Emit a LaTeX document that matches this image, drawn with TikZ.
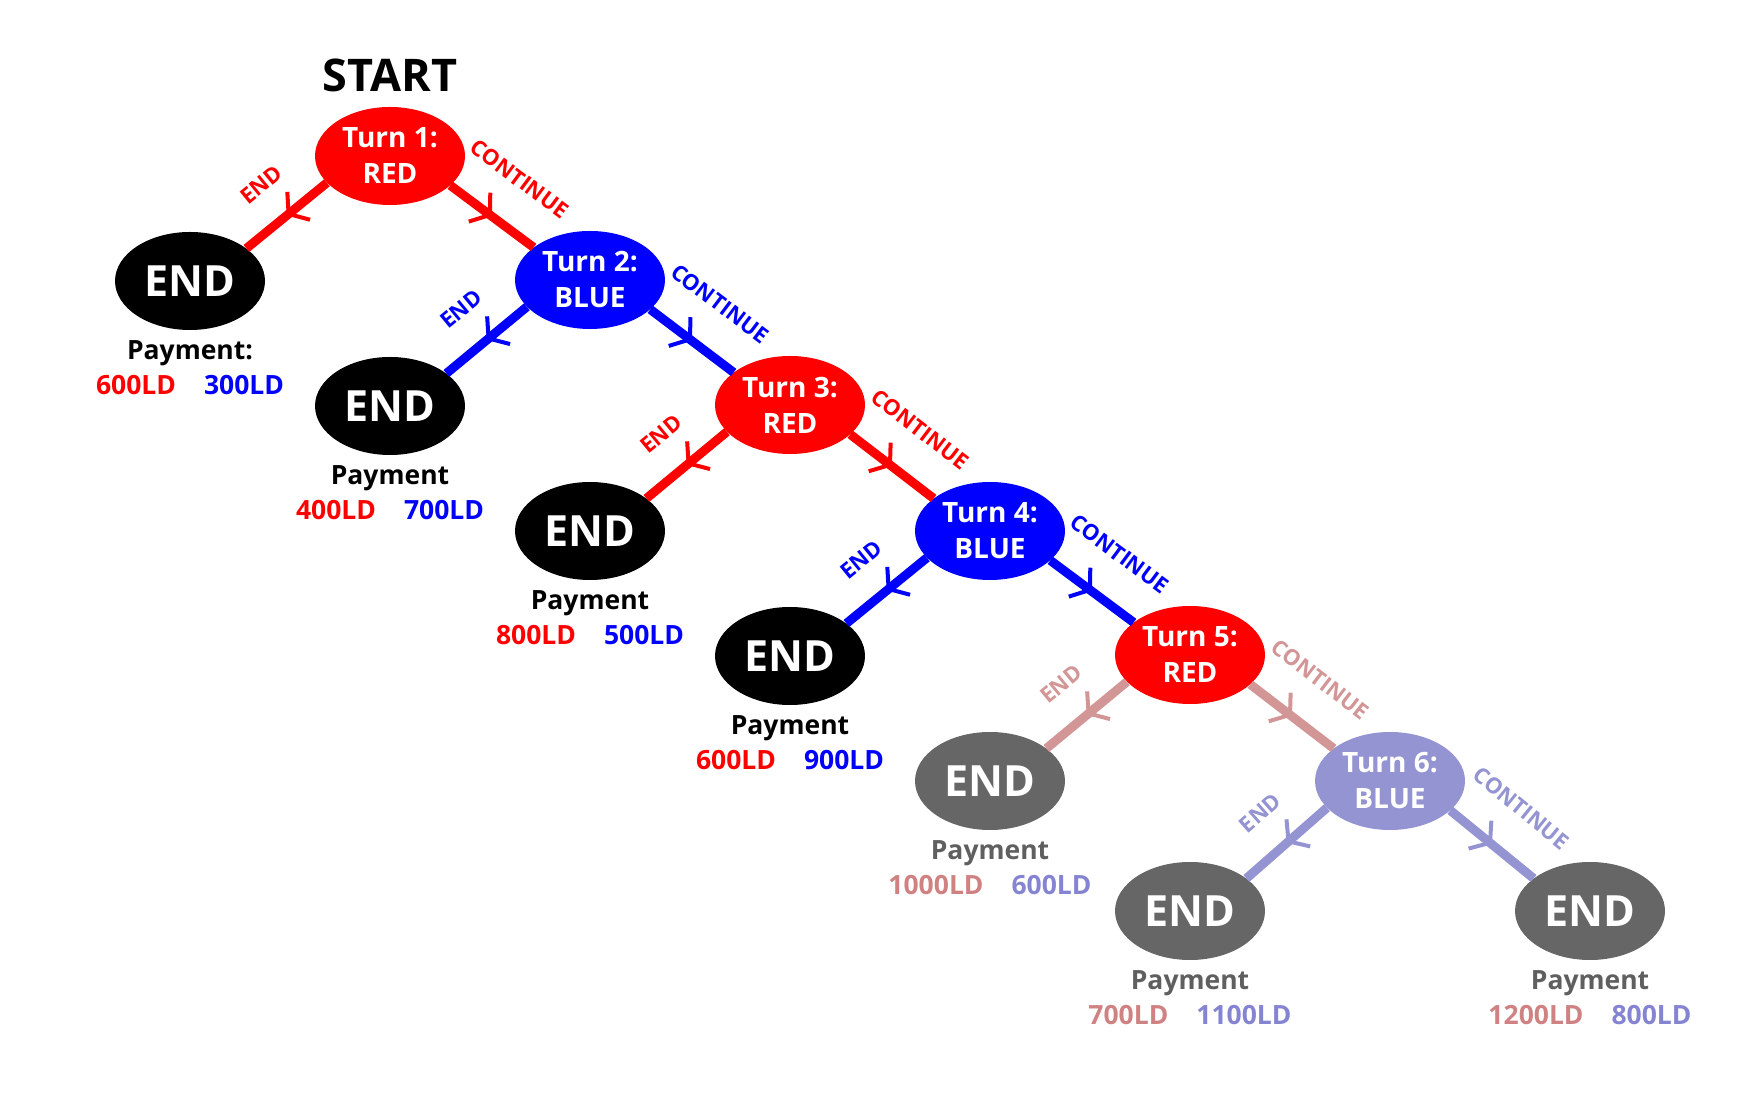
\documentclass[tikz,border=0pt]{standalone}
\usepackage{fontspec}
\setmainfont{Open Sans}
\usetikzlibrary{arrows.meta,decorations.markings,positioning,shapes.geometric}

\definecolor{myred}{RGB}{255,0,0}
\definecolor{myblue}{RGB}{0,0,255}
\definecolor{palered}{RGB}{211,150,150}
\definecolor{paleblue}{RGB}{148,148,210}
\definecolor{payred}{RGB}{208,130,130}
\definecolor{payblue}{RGB}{132,132,210}
\definecolor{endgrey}{RGB}{102,102,102}
\definecolor{paygrey}{RGB}{95,95,95}

\tikzset{
  turn/.style={ellipse, fill=#1, text=white, minimum width=150pt, minimum height=98pt,
    inner sep=0pt, align=center, font=\fontsize{28}{36}\selectfont\bfseries},
  endnode/.style={ellipse, fill=#1, text=white, minimum width=150pt, minimum height=98pt,
    inner sep=0pt, font=\fontsize{43}{43}\selectfont\bfseries},
  payment/.style={below=10pt of #1, inner sep=0pt, align=center,
    font=\fontsize{26.5}{35}\selectfont\bfseries},
  branch/.style={color=#1, line width=9pt, postaction={decorate},
    decoration={markings, mark=at position 0.5 with
      {\arrow{Straight Barb[length=13pt,width=36pt,line width=4pt]}}}},
  endlabel/.style={midway, sloped, above=28pt, inner sep=0pt,
    font=\fontsize{22}{22}\selectfont\bfseries},
  contlabel/.style={midway, sloped, above=34pt, inner sep=0pt,
    font=\fontsize{22}{22}\selectfont\bfseries},
}

\begin{document}
\begin{tikzpicture}[x=1pt, y=1pt]
    \useasboundingbox (0, 0) rectangle (1750, 1100);

    % Start
    \node[font=\fontsize{45}{45}\selectfont\bfseries] (start) at (390, 1025) {START};

    % Turns
    \node[turn=myred] (t1) at (390, 944) {Turn 1:\\RED};
    \node[turn=myblue] (t2) at (590, 820) {Turn 2:\\BLUE};
    \node[turn=myred] (t3) at (790, 695) {Turn 3:\\RED};
    \node[turn=myblue] (t4) at (990, 569) {Turn 4:\\BLUE};
    \node[turn=myred] (t5) at (1190, 445) {Turn 5:\\RED};
    \node[turn=paleblue] (t6) at (1390, 319) {Turn 6:\\BLUE};

    % Ends
    \node[endnode=black] (e1) at (190, 819) {END};
    \node[endnode=black] (e2) at (390, 694) {END};
    \node[endnode=black] (e3) at (590, 569) {END};
    \node[endnode=black] (e4) at (790, 444) {END};
    \node[endnode=endgrey] (e5) at (990, 319) {END};
    \node[endnode=endgrey] (e6) at (1190, 189) {END};
    \node[endnode=endgrey] (e7) at (1590, 189) {END};

    % Payments
    \node[payment=e1, text=black] (p1)
      {Payment:\\{\color{myred}600LD}\hspace{28pt}{\color{myblue}300LD}};
    \node[payment=e2, text=black] (p2)
      {Payment\\{\color{myred}400LD}\hspace{28pt}{\color{myblue}700LD}};
    \node[payment=e3, text=black] (p3)
      {Payment\\{\color{myred}800LD}\hspace{28pt}{\color{myblue}500LD}};
    \node[payment=e4, text=black] (p4)
      {Payment\\{\color{myred}600LD}\hspace{28pt}{\color{myblue}900LD}};
    \node[payment=e5, text=paygrey] (p5)
      {Payment\\{\color{payred}1000LD}\hspace{28pt}{\color{payblue}600LD}};
    \node[payment=e6, text=paygrey] (p6)
      {Payment\\{\color{payred}700LD}\hspace{28pt}{\color{payblue}1100LD}};
    \node[payment=e7, text=paygrey] (p7)
      {Payment\\{\color{payred}1200LD}\hspace{28pt}{\color{payblue}800LD}};

    % Branches
    \draw[branch=myred] (t1.-157) -- (e1.30) node[endlabel] {END};
    \draw[branch=myred] (t1.-26) -- (t2.150) node[contlabel] {CONTINUE};
    \draw[branch=myblue] (t2.-157) -- (e2.30) node[endlabel] {END};
    \draw[branch=myblue] (t2.-26) -- (t3.150) node[contlabel] {CONTINUE};
    \draw[branch=myred] (t3.-157) -- (e3.30) node[endlabel] {END};
    \draw[branch=myred] (t3.-26) -- (t4.150) node[contlabel] {CONTINUE};
    \draw[branch=myblue] (t4.-157) -- (e4.30) node[endlabel] {END};
    \draw[branch=myblue] (t4.-26) -- (t5.150) node[contlabel] {CONTINUE};
    \draw[branch=palered] (t5.-157) -- (e5.30) node[endlabel] {END};
    \draw[branch=palered] (t5.-26) -- (t6.150) node[contlabel] {CONTINUE};
    \draw[branch=paleblue] (t6.-157) -- (e6.30) node[endlabel] {END};
    \draw[branch=paleblue] (t6.-26) -- (e7.150) node[contlabel] {CONTINUE};
\end{tikzpicture}
\end{document}
